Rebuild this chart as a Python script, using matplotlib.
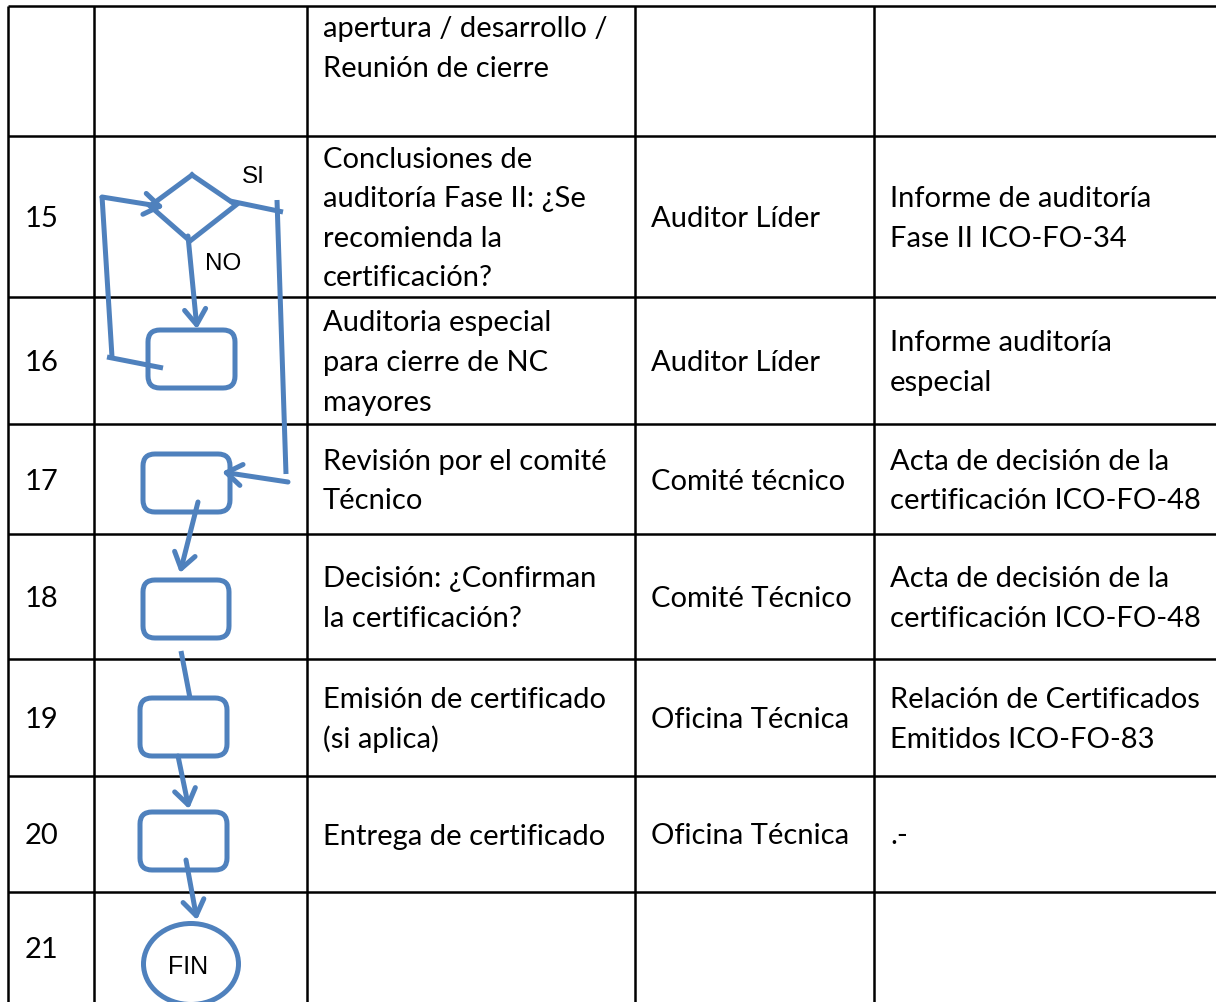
import matplotlib
matplotlib.use("Agg")
import matplotlib.pyplot as plt
from matplotlib.patches import FancyBboxPatch, Ellipse

# Table content
numeros = ["", "15", "16", "17", "18", "19", "20", "21"]
actividades = [
    ["apertura / desarrollo /", "Reunión de cierre"],
    ["Conclusiones de", "auditoría Fase II: ¿Se", "recomienda la", "certificación?"],
    ["Auditoria especial", "para cierre de NC", "mayores"],
    ["Revisión por el comité", "Técnico"],
    ["Decisión: ¿Confirman", "la certificación?"],
    ["Emisión de certificado", "(si aplica)"],
    ["Entrega de certificado"],
    [],
]
responsables = ["", "Auditor Líder", "Auditor Líder", "Comité técnico",
                "Comité Técnico", "Oficina Técnica", "Oficina Técnica", ""]
registros = [
    [],
    ["Informe de auditoría", "Fase II ICO-FO-34"],
    ["Informe auditoría", "especial"],
    ["Acta de decisión de la", "certificación ICO-FO-48"],
    ["Acta de decisión de la", "certificación ICO-FO-48"],
    ["Relación de Certificados", "Emitidos ICO-FO-83"],
    [".-"],
    [],
]

# layout in pixels
W, H = 1216, 1002
row_y = [6, 136, 297, 424, 534, 659, 776, 892, 1002]
col_x = [8, 94, 307, 635, 874]
text_x = [25, 323, 651, 890]
BLUE = "#4F81BD"
FONT = "Lato"
FS = 21
LINE = 39.5

fig = plt.figure(figsize=(W / 100, H / 100), dpi=100)
ax = fig.add_axes([0, 0, 1, 1])
ax.set_xlim(0, W)
ax.set_ylim(H, 0)
ax.axis("off")

# grid
for y in row_y[:-1]:
    ax.plot([col_x[0], W], [y, y], color="black", lw=1.8, solid_capstyle="butt")
for x in col_x:
    ax.plot([x, x], [row_y[0], H], color="black", lw=1.8, solid_capstyle="butt")


def cell_text(x, lines, r, top=False):
    if not lines:
        return
    n = len(lines)
    if top:
        base0 = row_y[r] + 31
    else:
        mid = (row_y[r] + row_y[r + 1]) / 2
        base0 = mid - (n - 1) / 2 * LINE + 10.5
    for i, s in enumerate(lines):
        ax.text(x, base0 + i * LINE, s, fontsize=FS, family=FONT,
                ha="left", va="baseline", color="black")


for r in range(len(numeros)):
    top = r == 0
    cell_text(text_x[0], [numeros[r]] if numeros[r] else [], r)
    cell_text(text_x[1], actividades[r], r, top)
    cell_text(text_x[2], [responsables[r]] if responsables[r] else [], r)
    cell_text(text_x[3], registros[r], r)

# flowchart
LW = 3.6


def seg(p, q):
    ax.plot([p[0], q[0]], [p[1], q[1]], color=BLUE, lw=LW, solid_capstyle="butt")


def arrow(p, q):
    ax.annotate("", xy=q, xytext=p,
                arrowprops=dict(arrowstyle="->,head_length=0.55,head_width=0.38",
                                lw=LW, color=BLUE, shrinkA=0, shrinkB=0,
                                mutation_scale=20))


def box(x0, y0, x1, y1):
    ax.add_patch(FancyBboxPatch((x0, y0), x1 - x0, y1 - y0,
                                boxstyle="round,pad=0,rounding_size=12",
                                fill=False, ec=BLUE, lw=LW))


# decision diamond
ax.plot([192, 236, 190, 150, 192], [175, 205, 241, 206, 175],
        color=BLUE, lw=LW, solid_joinstyle="miter")
ax.text(253, 177, "SI", fontsize=17.5, family="Liberation Sans",
        ha="center", va="center")
ax.text(223, 264, "NO", fontsize=17.5, family="Liberation Sans",
        ha="center", va="center")

# NO branch loop on the left
seg((107, 357), (163, 368))
seg((112, 357), (102, 196))
arrow((102, 197), (164, 207))
arrow((188, 236), (197, 329))

# SI branch on the right
seg((230, 201), (283, 212))
seg((277, 200), (286, 474))
arrow((288, 482), (222, 472))

box(148, 330, 235, 388)
box(143, 454, 230, 512)
box(143, 580, 229, 638)
box(140, 698, 227, 756)
box(140, 812, 227, 870)

arrow((198, 502), (180, 573))
seg((181, 651), (190, 698))
arrow((178, 756), (189, 809))
arrow((186, 860), (197, 920))

ax.add_patch(Ellipse((191, 964), 95, 81, fill=False, ec=BLUE, lw=LW))
ax.text(188, 967, "FIN", fontsize=18, family="Liberation Sans",
        ha="center", va="center")

fig.savefig("out.png", dpi=100)
